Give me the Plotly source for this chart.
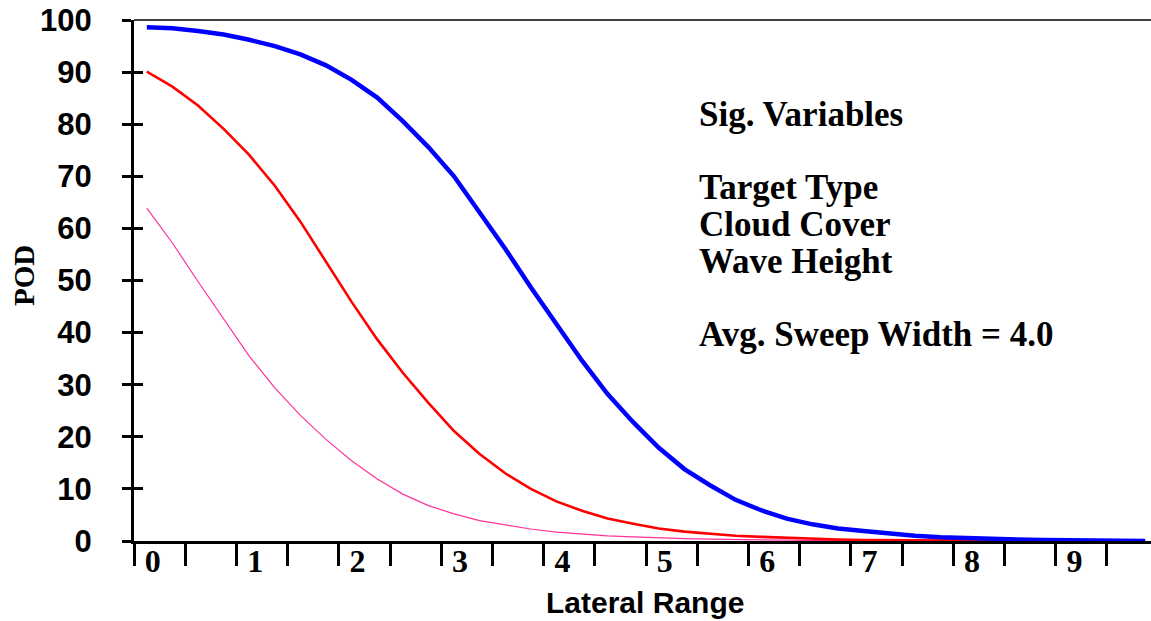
import plotly.graph_objects as go

# ---- data ----
lateral_range = [0, 0.25, 0.5, 0.75, 1, 1.25, 1.5, 1.75, 2, 2.25,
                 2.5, 2.75, 3, 3.25, 3.5, 3.75, 4, 4.25, 4.5, 4.75,
                 5, 5.25, 5.5, 5.75, 6, 6.25, 6.5, 6.75, 7, 7.25,
                 7.5, 7.75, 8, 8.25, 8.5, 8.75, 9, 9.25, 9.5, 9.75]

pod_blue = [98.6, 98.4, 97.9, 97.2, 96.2, 95.0, 93.4, 91.3, 88.5, 85.1,
            80.6, 75.6, 70.0, 63.1, 56.1, 48.7, 41.6, 34.6, 28.2, 22.8,
            17.9, 13.8, 10.7, 7.9, 5.9, 4.3, 3.2, 2.4, 1.9, 1.4,
            1.0, 0.7, 0.5, 0.4, 0.3, 0.2, 0.1, 0.05, 0.0, 0.0]

pod_red = [90.1, 87.2, 83.6, 79.1, 74.1, 68.2, 61.3, 53.6, 45.9, 38.7,
           32.3, 26.5, 21.1, 16.7, 13.0, 10.0, 7.6, 5.8, 4.3, 3.3,
           2.4, 1.8, 1.4, 1.0, 0.8, 0.6, 0.4, 0.3, 0.2, 0.2,
           0.1, 0.1, 0.1, 0.05, 0.05, 0.0, 0.0, 0.0, 0.0, 0.0]

pod_pink = [63.9, 57.2, 49.8, 42.6, 35.5, 29.4, 24.1, 19.5, 15.4, 11.9,
            9.0, 6.8, 5.2, 3.9, 3.1, 2.3, 1.7, 1.3, 1.0, 0.8,
            0.6, 0.45, 0.35, 0.25, 0.2, 0.15, 0.1, 0.1, 0.05, 0.05,
            0.0, 0.0, 0.0, 0.0, 0.0, 0.0, 0.0, 0.0, 0.0, 0.0]

x_tick_vals = [0, 1, 2, 3, 4, 5, 6, 7, 8, 9]
x_tick_text = ["0", "1", "2", "3", "4", "5", "6", "7", "8", "9"]
y_tick_vals = [0, 10, 20, 30, 40, 50, 60, 70, 80, 90, 100]

info_lines = ["Sig. Variables", "Target Type", "Cloud Cover", "Wave Height",
              "Avg. Sweep Width = 4.0"]
info_centers_px = [114, 187, 224, 261, 334]

# ---- layout geometry ----
W, H = 1151, 621
ML, MR, MT, MB = 134, 0, 20, 80
PW, PH = W - ML - MR, H - MT - MB


def px_to_paper_x(px):
    return (px - ML) / PW


def px_to_paper_y(py):
    return (H - MB - py) / PH


serif = "Liberation Serif"
sans = "Liberation Sans"

fig = go.Figure()
fig.add_trace(go.Scatter(x=lateral_range, y=pod_pink, mode="lines",
                         line=dict(color="#FF3399", width=1.2), showlegend=False))
fig.add_trace(go.Scatter(x=lateral_range, y=pod_red, mode="lines",
                         line=dict(color="#FF0000", width=2.6), showlegend=False))
fig.add_trace(go.Scatter(x=lateral_range, y=pod_blue, mode="lines",
                         line=dict(color="#0000FF", width=4.5), showlegend=False))
# invisible trace to anchor the inner-tick overlay axis
fig.add_trace(go.Scatter(x=[None], y=[None], yaxis="y2", showlegend=False,
                         hoverinfo="skip"))

fig.update_layout(
    width=W, height=H,
    margin=dict(l=ML, r=MR, t=MT, b=MB, pad=0),
    plot_bgcolor="white", paper_bgcolor="white",
    xaxis=dict(
        range=[-0.125, -0.125 + PW / 102.4],
        showgrid=False, zeroline=False,
        showline=True, linecolor="black", linewidth=3,
        tickmode="array", tickvals=x_tick_vals, ticktext=x_tick_text,
        ticks="", ticklabelshift=6, ticklabelstandoff=-10,
        tickfont=dict(family=serif, size=32, color="black", weight="bold"),
        minor=dict(ticks="outside", tick0=-0.125, dtick=0.5, ticklen=22,
                   tickwidth=3, tickcolor="black", showgrid=False),
    ),
    yaxis=dict(
        range=[0, 100], showgrid=False, zeroline=False,
        showline=True, linecolor="black", linewidth=3,
        tickmode="array", tickvals=y_tick_vals,
        ticks="outside", ticklen=9, tickwidth=3, tickcolor="black",
        ticklabelstandoff=24,
        tickfont=dict(family=sans, size=31, color="black", weight="bold"),
    ),
    yaxis2=dict(
        range=[0, 100], overlaying="y", side="left", anchor="x",
        showgrid=False, zeroline=False, showline=False,
        tickmode="array", tickvals=y_tick_vals, showticklabels=False,
        ticks="inside", ticklen=9, tickwidth=3, tickcolor="black",
    ),
    shapes=[dict(type="line", xref="paper", yref="paper", x0=0, x1=1, y0=1, y1=1,
                 line=dict(color="black", width=1.5))],
)

annotations = [
    dict(text="POD", xref="paper", yref="paper",
         x=px_to_paper_x(24), y=px_to_paper_y(276), xanchor="center", yanchor="middle",
         textangle=-90, showarrow=False,
         font=dict(family=serif, size=29, color="black", weight="bold")),
    dict(text="Lateral Range", xref="paper", yref="paper",
         x=px_to_paper_x(645), y=px_to_paper_y(602), xanchor="center", yanchor="middle",
         showarrow=False,
         font=dict(family=sans, size=30, color="black", weight="bold")),
]
for line, cy in zip(info_lines, info_centers_px):
    annotations.append(dict(text=line, xref="paper", yref="paper",
                            x=px_to_paper_x(697), y=px_to_paper_y(cy),
                            xanchor="left", yanchor="middle", showarrow=False,
                            font=dict(family=serif, size=35, color="black", weight="bold")))
fig.update_layout(annotations=annotations)

fig.write_html("out.html")
